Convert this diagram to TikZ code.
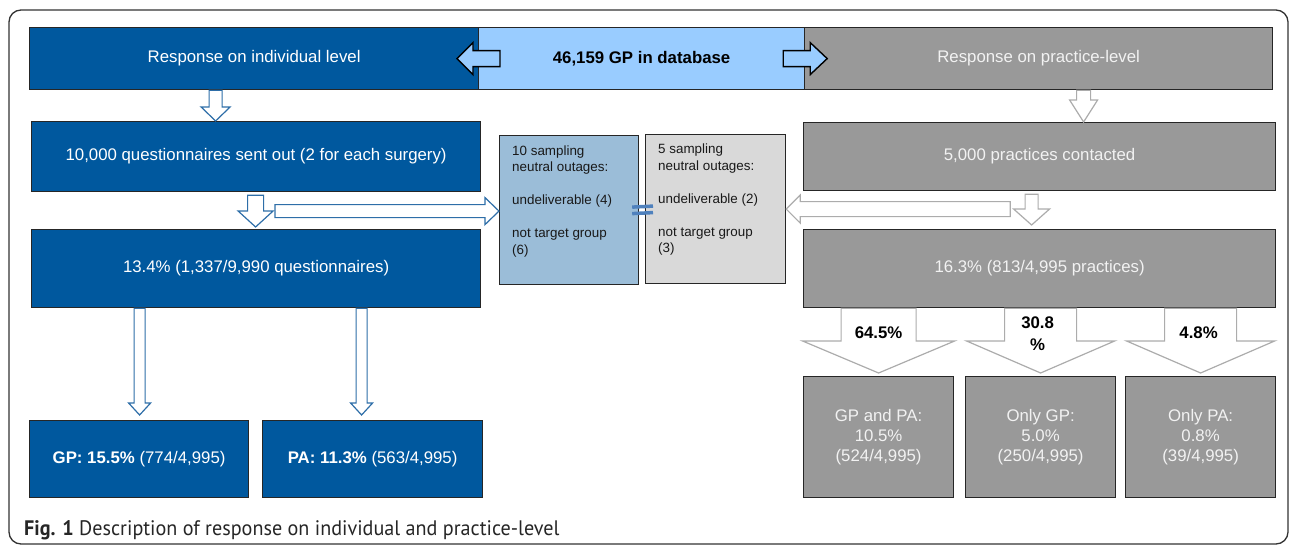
\documentclass[tikz,border=0pt]{standalone}
\usepackage{fontspec}
\setmainfont{Liberation Sans}
\newfontfamily\capfont{PT Sans}
\usetikzlibrary{calc}
\definecolor{dblue}{RGB}{0,88,158}
\definecolor{lblue}{RGB}{153,204,255}
\definecolor{gbox}{RGB}{153,153,153}
\definecolor{steel}{RGB}{155,189,216}
\definecolor{lgray}{RGB}{217,217,217}
\definecolor{ablue}{RGB}{46,110,168}
\definecolor{agray}{RGB}{172,172,172}
\definecolor{eqblue}{RGB}{79,129,189}
\definecolor{gtext}{RGB}{242,242,242}
\newcommand\mainfs{\fontsize{16.8pt}{20pt}\selectfont}
\newcommand\smallfs{\fontsize{13.4pt}{16.5pt}\selectfont}
\newcommand\blkarrow[6]{%
  \coordinate (bs) at (#2);
  \coordinate (be) at (#3);
  \coordinate (bh) at ($(be)!#6!(bs)$);
  \draw[#1] ($(bs)!#4!90:(be)$) -- ($(bh)!#4!90:(be)$) -- ($(bh)!#5!90:(be)$) -- (be)
    -- ($(bh)!#5!-90:(be)$) -- ($(bh)!#4!-90:(be)$) -- ($(bs)!#4!-90:(be)$) -- cycle;}
\tikzset{
  box/.style={draw=black!85, line width=1.2pt, inner sep=0pt, anchor=north west, font=\mainfs, align=center},
  bluebox/.style={box, fill=dblue, text=white},
  graybox/.style={box, fill=gbox, text=gtext},
  blarrow/.style={draw=ablue, fill=white, line width=1.2pt, line join=miter},
  grarrow/.style={draw=agray, fill=white, line width=1.2pt, line join=miter},
  lbarrow/.style={draw=black, fill=lblue, line width=1.4pt, line join=miter},
  outtext/.style={anchor=north west, inner sep=0pt, font=\smallfs, align=left, text=black!90},
  pct/.style={font=\mainfs\bfseries, inner sep=0pt, align=center},
}
\begin{document}
\begin{tikzpicture}[x=1pt, y=-1pt]
\useasboundingbox (0,0) rectangle (1290,546);
\draw[black!80, line width=1.3pt, rounded corners=12pt] (9,10) rectangle (1288,544);

% top row
\node[bluebox, minimum width=449pt, minimum height=62pt] (indiv) at (29,27) {Response on individual level};
\node[graybox, minimum width=468pt, minimum height=62pt] (prac) at (804,27) {Response on practice-level};
\node[box, fill=lblue, minimum width=326pt, minimum height=62pt, font=\mainfs\bfseries] (db) at (478,27) {46,159 GP in database};

% second row
\node[bluebox, minimum width=449pt, minimum height=70pt] (quest) at (31,121) {10,000 questionnaires sent out (2 for each surgery)};
\node[graybox, minimum width=472pt, minimum height=68pt] (contact) at (803,122) {5,000 practices contacted};

% third row
\node[bluebox, minimum width=449pt, minimum height=78pt] (resp) at (31,229) {13.4\% (1,337/9,990 questionnaires)};
\node[graybox, minimum width=472pt, minimum height=78pt] (resp2) at (803,229) {16.3\% (813/4,995 practices)};

% outage boxes
\node[box, fill=steel, minimum width=139pt, minimum height=149pt] (out1) at (499,135) {};
\node[box, fill=lgray, minimum width=140pt, minimum height=149pt] (out2) at (645,134) {};
\node[outtext] (out1t) at ([xshift=13pt, yshift=-10.5pt]out1.north west)
  {10 sampling\\neutral outages:\\[16.5pt]undeliverable (4)\\[16.5pt]not target group\\(6)};
\node[outtext] (out2t) at ([xshift=13pt, yshift=-10pt]out2.north west)
  {5 sampling\\neutral outages:\\[16.5pt]undeliverable (2)\\[16.5pt]not target group\\(3)};

% bottom left
\node[bluebox, minimum width=219pt, minimum height=77pt] (gp) at (29,420) {\textbf{GP: 15.5\%} (774/4,995)};
\node[bluebox, minimum width=220pt, minimum height=77pt] (pa) at (262,420) {\textbf{PA: 11.3\%} (563/4,995)};

% bottom right
\node[graybox, minimum width=150pt, minimum height=121pt] (r1) at (803,376) {GP and PA:\\10.5\%\\(524/4,995)};
\node[graybox, minimum width=150pt, minimum height=121pt] (r2) at (965,376) {Only GP:\\5.0\%\\(250/4,995)};
\node[graybox, minimum width=150pt, minimum height=121pt] (r3) at (1125,376) {Only PA:\\0.8\%\\(39/4,995)};

% arrows: light blue at top
\blkarrow{lbarrow}{[xshift=22pt]db.west}{[xshift=-21pt]db.west}{8pt}{16pt}{16pt}
\blkarrow{lbarrow}{[xshift=-22pt]db.east}{[xshift=22pt]db.east}{8pt}{16pt}{17pt}

% blue hollow arrows
\blkarrow{blarrow}{[xshift=-38.5pt]indiv.south}{[xshift=-40.5pt]quest.north}{6.5pt}{14.5pt}{14pt}
\blkarrow{blarrow}{[xshift=-0.5pt, yshift=-3pt]quest.south}{[xshift=-0.5pt, yshift=2pt]resp.north}{8pt}{17.5pt}{16pt}
\blkarrow{blarrow}{[xshift=-224pt, yshift=-1pt]out1.west}{[yshift=-1pt]out1.west}{6.5pt}{13.5pt}{14pt}
\blkarrow{blarrow}{[xshift=-116.5pt]resp.south}{[xshift=0.5pt, yshift=5pt]gp.north}{5.5pt}{11pt}{12pt}
\blkarrow{blarrow}{[xshift=105.5pt]resp.south}{[xshift=-11pt, yshift=5pt]pa.north}{5.5pt}{11pt}{12pt}

% equals link between outage boxes
\draw[eqblue, line width=3.5pt] ([xshift=-7pt, yshift=3pt]out1.east) -- ([xshift=8pt, yshift=3pt]out2.west);
\draw[eqblue, line width=3.5pt] ([xshift=-7pt, yshift=-3.5pt]out1.east) -- ([xshift=8pt, yshift=-3.5pt]out2.west);

% gray hollow arrows
\blkarrow{grarrow}{[xshift=45pt]prac.south}{[xshift=44pt]contact.north}{7pt}{14pt}{22pt}
\blkarrow{grarrow}{[xshift=-8pt, yshift=-3pt]contact.south}{[xshift=-8pt, yshift=4pt]resp2.north}{6.5pt}{18pt}{16pt}
\blkarrow{grarrow}{[xshift=224pt]out2.east}{out2.east}{7.5pt}{14pt}{14pt}

% big gray arrows with percentages
\blkarrow{grarrow}{r1.north |- resp2.south}{[yshift=3pt]r1.north}{37.5pt}{76pt}{32pt}
\blkarrow{grarrow}{r2.north |- resp2.south}{[yshift=3pt]r2.north}{36pt}{74pt}{32pt}
\blkarrow{grarrow}{r3.north |- resp2.south}{[yshift=3pt]r3.north}{36pt}{74pt}{32pt}
\node[pct] (p1) at ([yshift=43pt]r1.north) {64.5\%};
\node[pct, font=\fontsize{16.8pt}{22pt}\selectfont\bfseries] (p2) at ([xshift=-3pt, yshift=42pt]r2.north) {30.8\\\%};
\node[pct] (p3) at ([xshift=-2pt, yshift=43pt]r3.north) {4.8\%};

% caption
\node[anchor=base west, inner sep=0pt, font=\capfont\fontsize{21pt}{24pt}\selectfont, text=black!85] (cap) at (24,535)
  {\scalebox{0.96}[1]{\textbf{Fig. 1} Description of response on individual and practice-level}};
\end{tikzpicture}
\end{document}
